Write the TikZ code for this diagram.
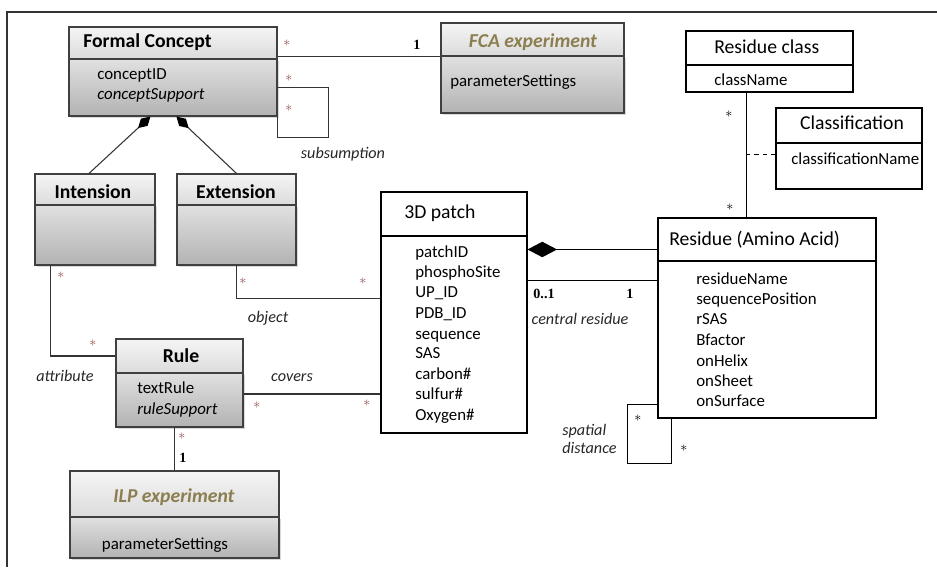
\documentclass[tikz,border=0pt]{standalone}
\usepackage{fontspec}
\setmainfont{Carlito}
\newfontfamily\numfont{Liberation Serif}
\usetikzlibrary{calc,fit,shadows,arrows.meta}

\definecolor{expolive}{RGB}{140,126,80}
\definecolor{starred}{RGB}{150,80,80}

\tikzset{
  ghead/.style={draw=black!75, line width=0.8pt, top color=black!4, bottom color=black!14, inner sep=0pt},
  gbody/.style={draw=black!75, line width=0.8pt, top color=black!12, bottom color=black!30, inner sep=0pt,
    drop shadow={shadow xshift=1.2pt, shadow yshift=-1.2pt, opacity=0.3}},
  wbox/.style={draw=black, line width=0.75pt, fill=white, inner sep=0pt},
  assoc/.style={draw=black!80, line width=0.75pt},
  btitle/.style={font=\fontsize{14}{16}\selectfont\bfseries, inner sep=0pt, anchor=mid, yshift=-2pt},
  xtitle/.style={font=\fontsize{14}{16}\selectfont\bfseries\itshape, text=expolive, inner sep=0pt, anchor=mid, yshift=-2pt},
  wtitle/.style={font=\fontsize{14}{16}\selectfont, inner sep=0pt, anchor=mid west, yshift=-2pt},
  attr/.style={font=\fontsize{12}{14}\selectfont, inner sep=0pt, anchor=mid west, yshift=-1.6pt},
  lbl/.style={font=\fontsize{11.5}{12}\selectfont\itshape, text=black!85, inner sep=0pt, anchor=mid, yshift=-1.5pt},
  mult/.style={font=\fontsize{10}{10}\selectfont, text=starred, inner sep=0pt, anchor=center},
  one/.style={font=\fontsize{10}{11}\numfont\bfseries, inner sep=0pt, anchor=mid, yshift=-1pt}
}

\begin{document}
\begin{tikzpicture}[x=0.025cm, y=-0.025cm]
    \useasboundingbox (0,0) rectangle (937,567);
    \draw[black!80, line width=0.8pt] (7,567) -- (7,12) -- (937,12);

    % grey classes
    \node (fcb) [gbody, fit={(69,59) (277,116)}] {};
    \node (fc) [ghead, fit={(69,27) (277,59)}] {};
    \node (intb) [gbody, fit={(35,205) (155,265)}] {};
    \node (int) [ghead, fit={(35,174) (155,205)}] {};
    \node (extb) [gbody, fit={(177,205) (296,265)}] {};
    \node (ext) [ghead, fit={(177,174) (296,205)}] {};
    \node (fcaxb) [gbody, fit={(441,56) (624,113)}] {};
    \node (fcax) [ghead, fit={(441,23) (624,56)}] {};
    \node (ruleb) [gbody, fit={(116,373) (243,427)}] {};
    \node (rule) [ghead, fit={(116,339) (243,373)}] {};
    \node (ilpb) [gbody, fit={(70,517) (279,558)}] {};
    \node (ilp) [ghead, fit={(70,471) (279,517)}] {};

    % white classes
    \node (patch) [wbox, fit={(381,192) (527,236)}] {};
    \node (patchb) [wbox, fit={(381,236) (527,433)}] {};
    \node (res) [wbox, fit={(658,218) (876,261)}] {};
    \node (resb) [wbox, fit={(658,261) (876,418)}] {};
    \node (rcls) [wbox, fit={(686,31) (853,65)}] {};
    \node (rclsb) [wbox, fit={(686,65) (853,92)}] {};
    \node (cls) [wbox, fit={(776,108) (922,143)}] {};
    \node (clsb) [wbox, fit={(776,143) (922,189)}] {};

    % titles and attributes
    \node (fc-t) [btitle, anchor=mid west] at (83,41) {Formal Concept};
    \node (fc-1) [attr] at (97,74) {conceptID};
    \node (fc-2) [attr, font=\fontsize{12}{14}\selectfont\itshape] at (97,94) {conceptSupport};
    \node (int-t) [btitle] at (93,192) {Intension};
    \node (ext-t) [btitle] at (236,192) {Extension};
    \node (fcax-t) [xtitle] at (533,41) {FCA experiment};
    \node (fcax-1) [attr] at (450,81) {parameterSettings};
    \node (rule-t) [btitle] at (181,356) {Rule};
    \node (rule-1) [attr] at (137,388) {textRule};
    \node (rule-2) [attr, font=\fontsize{12}{14}\selectfont\itshape] at (137,409) {ruleSupport};
    \node (ilp-t) [xtitle] at (174,496) {ILP experiment};
    \node (ilp-1) [attr, anchor=mid] at (165,544) {parameterSettings};

    \node (patch-t) [wtitle] at (404,212) {3D patch};
    \node (patch-1) [attr] at (415,252) {patchID};
    \node (patch-2) [attr] at (415,272) {phosphoSite};
    \node (patch-3) [attr] at (415,292) {UP\_ID};
    \node (patch-4) [attr] at (415,313) {PDB\_ID};
    \node (patch-5) [attr] at (415,334) {sequence};
    \node (patch-6) [attr] at (415,353) {SAS};
    \node (patch-7) [attr] at (415,374) {carbon\#};
    \node (patch-8) [attr] at (415,394) {sulfur\#};
    \node (patch-9) [attr] at (415,415) {Oxygen\#};

    \node (res-t) [wtitle] at (669,239) {Residue (Amino Acid)};
    \node (res-1) [attr] at (696,279) {residueName};
    \node (res-2) [attr] at (696,299) {sequencePosition};
    \node (res-3) [attr] at (696,319) {rSAS};
    \node (res-4) [attr] at (696,340) {Bfactor};
    \node (res-5) [attr] at (696,361) {onHelix};
    \node (res-6) [attr] at (696,381) {onSheet};
    \node (res-7) [attr] at (696,401) {onSurface};

    \node (rcls-t) [wtitle] at (714,47) {Residue class};
    \node (rcls-1) [attr] at (714,80) {className};
    \node (cls-t) [wtitle, anchor=mid] at (852,123) {Classification};
    \node (cls-1) [attr] at (791,159) {classificationName};

    % connectors
    \draw[assoc] (fc.east |- fcax.south west) -- (fcax.south west);
    \draw[assoc] ($(fcb.north east)+(0,29)$) -- ++(51,0) -- ++(0,50) -- ++(-51,0) -- (fcb.south east);
    \draw[assoc, -{Diamond[length=12pt,width=7pt,color=black]}] ($(int.north)+(-6,0)$) -- ($(fcb.south west)+(82,0)$);
    \draw[assoc, -{Diamond[length=12pt,width=7pt,color=black]}] (ext.north) -- ($(fcb.south west)+(108,0)$);
    \draw[assoc] ($(intb.south west)+(16,0)$) |- (rule.west);
    \draw[assoc] (extb.south) |- ($(patchb.north west)+(0,63)$);
    \coordinate (cv) at ($(ruleb.east)+(0,-6)$);
    \draw[assoc] (cv) -- (cv -| patchb.west);
    \draw[assoc] (ilp.north) -- (ilp.north |- ruleb.south);

    \coordinate (pc) at ($(patchb.north east)+(0,14)$);
    \draw[assoc, draw=black, {Diamond[length=21pt,width=11pt,color=black]}-] (pc) -- (pc -| res.west);
    \coordinate (cr) at ($(patchb.north east)+(0,45)$);
    \draw[assoc, draw=black] (cr) -- (cr -| resb.west);
    \coordinate (rc) at ($(rclsb.south)+(-23,0)$);
    \draw[assoc, draw=black] (rc) -- (rc |- res.north);
    \coordinate (cl) at ($(clsb.north west)+(0,12)$);
    \draw[assoc, draw=black, dashed] (cl) -- (cl -| rc);
    \draw[assoc, draw=black] ($(resb.south west)+(14,0)$) -- ++(0,45) -- ++(-44,0) -- ++(0,-59) coordinate (sd) -- (sd -| resb.west);

    % role names
    \node (l-sub) [lbl] at (343,153) {subsumption};
    \node (l-obj) [lbl] at (268,317) {object};
    \node (l-att) [lbl] at (65,376) {attribute};
    \node (l-cov) [lbl] at (292,376) {covers};
    \node (l-cen) [lbl] at (580,319) {central residue};
    \node (l-spa) [lbl, anchor=west, align=left, font=\fontsize{11.5}{12.5}\selectfont\itshape] at (562,437) {spatial\\distance};

    % multiplicities
    \node (m1) [mult] at (287,43) {$\ast$};
    \node (m2) [mult] at (289,78) {$\ast$};
    \node (m3) [mult] at (289,108) {$\ast$};
    \node (m4) [mult] at (61,275) {$\ast$};
    \node (m5) [mult] at (93,343) {$\ast$};
    \node (m6) [mult] at (243,281) {$\ast$};
    \node (m7) [mult] at (363,281) {$\ast$};
    \node (m8) [mult] at (257,405) {$\ast$};
    \node (m9) [mult] at (367,403) {$\ast$};
    \node (m10) [mult] at (182,436) {$\ast$};
    \node (m11) [mult, text=black] at (729,114) {$\ast$};
    \node (m12) [mult, text=black] at (730,207) {$\ast$};
    \node (m13) [mult, text=black] at (638,418) {$\ast$};
    \node (m14) [mult, text=black] at (684,448) {$\ast$};
    \node (o1) [one] at (417,45) {1};
    \node (o2) [one] at (183,458) {1};
    \node (o3) [one] at (544,294) {0..1};
    \node (o4) [one] at (630,294) {1};
\end{tikzpicture}
\end{document}
